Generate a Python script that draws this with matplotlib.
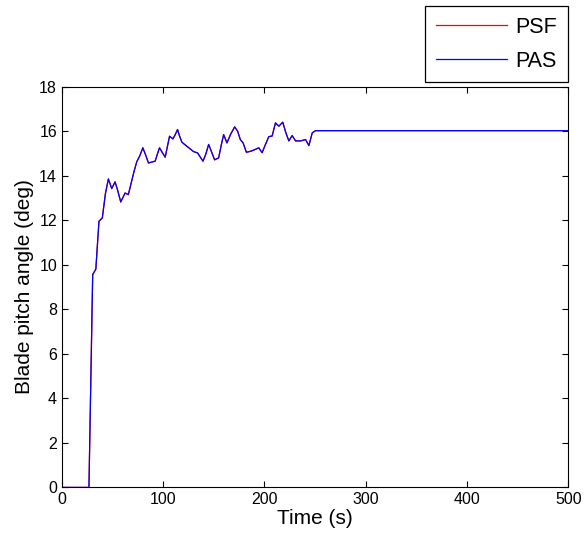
import matplotlib
matplotlib.use('Agg')
import matplotlib.pyplot as plt

plt.rcParams['font.family'] = ['Liberation Sans', 'DejaVu Sans']

# blade pitch angle (s, deg)
time = [0, 26.7, 30.4, 33.5, 36.6, 39.9, 43.0, 45.9, 49.2, 52.5, 55.0, 58.1, 62.4, 65.6,
        71.3, 73.9, 77.0, 79.9, 82.5, 85.5, 92.1, 94.5, 96.4, 99.0, 102.0, 106.3,
        109.6, 112.0, 114.2, 116.0, 118.5, 123.4, 130.0, 134.0, 139.3, 142.0, 144.9,
        147.5, 150.8, 154.8, 157.5, 159.7, 163.0, 166.5, 170.6, 173.5, 176.2, 178.9,
        182.2, 186.8, 190.6, 194.4, 197.7, 201.0, 204.3, 207.6, 210.9, 214.2, 218.1,
        221.0, 224.1, 227.4, 230.7, 235.7, 240.6, 243.9, 247.2, 250.5, 500]
pitch = [0, 0, 9.56, 9.8, 11.95, 12.1, 13.2, 13.85, 13.42, 13.72, 13.35, 12.82, 13.22,
         13.15, 14.2, 14.62, 14.9, 15.25, 14.95, 14.57, 14.65, 15.0, 15.25, 15.05,
         14.83, 15.77, 15.65, 15.85, 16.07, 15.8, 15.5, 15.32, 15.08, 15.02, 14.65,
         14.95, 15.4, 15.1, 14.71, 14.8, 15.4, 15.84, 15.47, 15.85, 16.19, 16.0,
         15.62, 15.47, 15.05, 15.1, 15.17, 15.25, 15.03, 15.4, 15.75, 15.78, 16.37,
         16.22, 16.4, 15.95, 15.56, 15.8, 15.56, 15.56, 15.62, 15.35, 15.92, 16.02,
         16.02]

fig = plt.figure(figsize=(5.84, 5.41), dpi=100)
ax = fig.add_axes([0.106, 0.099, 0.867, 0.741])

ax.plot(time, pitch, color='#ff0000', lw=0.9, label='PSF')
ax.plot(time, pitch, color='#0000ff', lw=0.9, label='PAS')

ax.set_xlim(0, 500)
ax.set_ylim(0, 18)
ax.set_xticks(range(0, 501, 100))
ax.set_yticks(range(0, 19, 2))
ax.tick_params(direction='in', top=True, right=True, labelsize=11.5, length=4)
ax.set_xlabel('Time (s)', fontsize=15, labelpad=1)
ax.set_ylabel('Blade pitch angle (deg)', fontsize=15, labelpad=4)

leg = ax.legend(loc='upper right', bbox_to_anchor=(0.973, 0.989),
                bbox_transform=fig.transFigure, borderaxespad=0,
                fancybox=False, edgecolor='black', fontsize=15.5,
                handlelength=3.3, handletextpad=0.4, labelspacing=0.6,
                borderpad=0.5, framealpha=1)
leg.get_frame().set_linewidth(0.9)

fig.savefig('out.png', dpi=100)
